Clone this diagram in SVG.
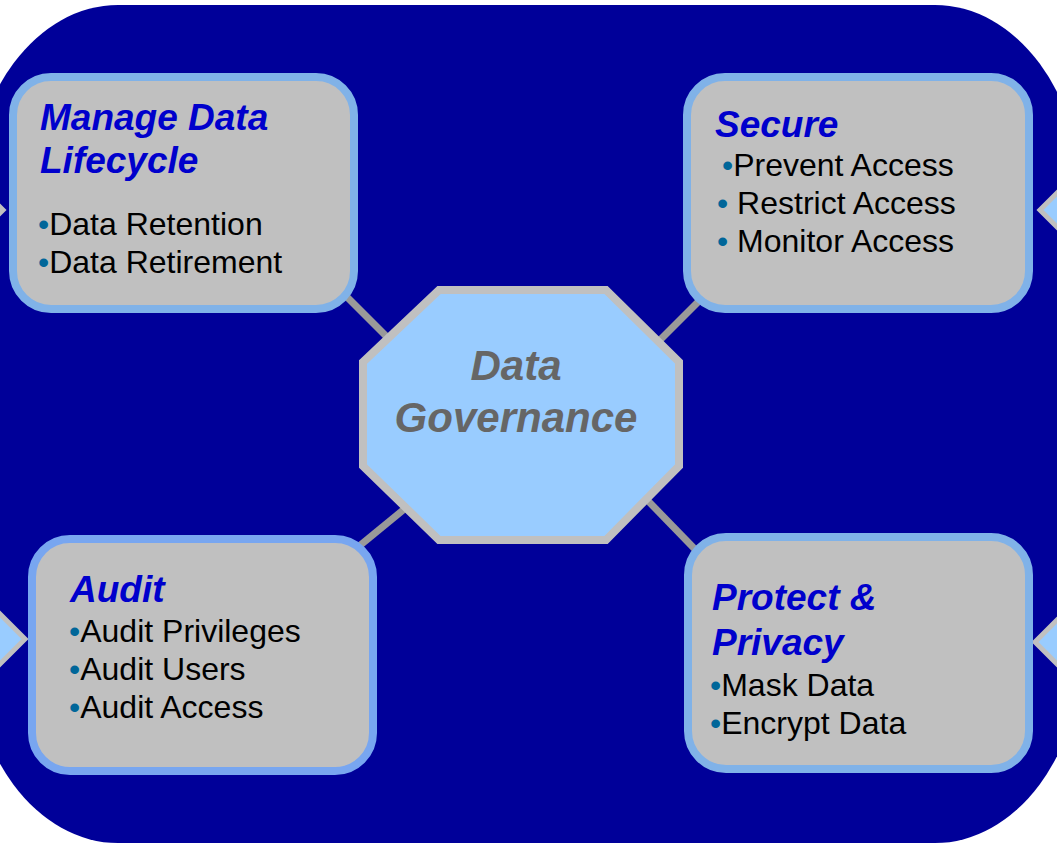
<svg xmlns="http://www.w3.org/2000/svg" width="1057" height="844" viewBox="0 0 1057 844">
<style>
.box{fill:#C0C0C0;stroke:#80B2E8;stroke-width:8}
.title{font-family:"Liberation Sans",Arial,sans-serif;font-weight:bold;font-style:italic;font-size:37px;fill:#0000CC}
.item{font-family:"Liberation Sans",Arial,sans-serif;font-size:32px;fill:#000000}
.bul{fill:#006699}
.conn{stroke:#999999;stroke-width:7;fill:none}
.side{fill:#99CCFF;stroke:#C0C0C0;stroke-width:5}
.center{fill:#99CCFF;stroke:#C0C0C0;stroke-width:8}
.ctext{font-family:"Liberation Sans",Arial,sans-serif;font-weight:bold;font-style:italic;font-size:42px;fill:#666666}
</style>
<rect x="-30" y="5" width="1113" height="838" rx="148" ry="200" fill="#000099"/>
<g id="side-arrows">
<polygon class="side" points="-57,150 3,210 -57,270"/>
<polygon class="side" points="-35,579 25,639 -35,699"/>
<polygon class="side" points="1100,150 1040,210 1100,270"/>
<polygon class="side" points="1095,582 1035,642 1095,702"/>
</g>
<g id="connectors">
<line class="conn" x1="320" y1="270" x2="420" y2="370"/>
<line class="conn" x1="720" y1="280" x2="620" y2="380"/>
<line class="conn" x1="430" y1="488" x2="330" y2="570"/>
<line class="conn" x1="620" y1="472" x2="720" y2="575"/>
</g>
<g id="node-center">
<polygon class="center" points="439,290 606,290 679,362 679,466 606,540 439,540 363,466 363,362"/>
<text class="ctext" x="516" y="380" text-anchor="middle">Data</text>
<text class="ctext" x="516" y="432" text-anchor="middle">Governance</text>
</g>
<g id="node-lifecycle">
<rect class="box" x="13" y="77" width="341" height="232" rx="38"/>
<text class="title" x="40" y="130">Manage Data</text>
<text class="title" x="40" y="173">Lifecycle</text>
<text class="item" x="38" y="235"><tspan class="bul">•</tspan>Data Retention</text>
<text class="item" x="38" y="273"><tspan class="bul">•</tspan>Data Retirement</text>
</g>
<g id="node-secure">
<rect class="box" x="687" y="77" width="342" height="232" rx="38"/>
<text class="title" x="715" y="137">Secure</text>
<text class="item" x="722" y="176"><tspan class="bul">•</tspan>Prevent Access</text>
<text class="item" x="717" y="214"><tspan class="bul">•</tspan> Restrict Access</text>
<text class="item" x="717" y="252"><tspan class="bul">•</tspan> Monitor Access</text>
</g>
<g id="node-audit">
<rect class="box" x="32" y="539" width="341" height="232" rx="38" style="stroke:#78A6F0"/>
<text class="title" x="70" y="602">Audit</text>
<text class="item" x="69" y="642"><tspan class="bul">•</tspan>Audit Privileges</text>
<text class="item" x="69" y="680"><tspan class="bul">•</tspan>Audit Users</text>
<text class="item" x="69" y="718"><tspan class="bul">•</tspan>Audit Access</text>
</g>
<g id="node-protect">
<rect class="box" x="688" y="537" width="341" height="232" rx="38"/>
<text class="title" x="712" y="610">Protect &amp;</text>
<text class="title" x="712" y="655">Privacy</text>
<text class="item" x="710" y="696"><tspan class="bul">•</tspan>Mask Data</text>
<text class="item" x="710" y="734"><tspan class="bul">•</tspan>Encrypt Data</text>
</g>
</svg>
